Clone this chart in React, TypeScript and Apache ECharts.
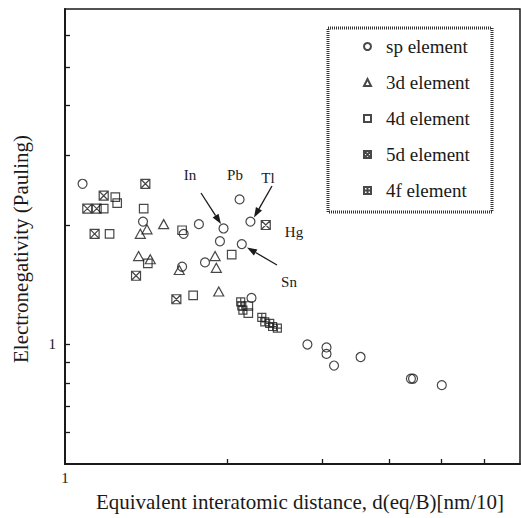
import React, { useEffect, useRef } from 'react';
import * as echarts from 'echarts';

const seriesNames = ['sp element', '3d element', '4d element', '5d element', '4f element'];

const spData = [
  [1.078, 2.54], [1.396, 2.04], [1.661, 1.9], [1.773, 2.01], [1.97, 1.96],
  [2.11, 2.32], [2.21, 2.04], [1.94, 1.82], [2.13, 1.79], [1.82, 1.61],
  [1.65, 1.57], [2.22, 1.31], [2.82, 1.0], [3.06, 0.983], [3.06, 0.947],
  [3.16, 0.885], [3.54, 0.93], [4.39, 0.82], [4.43, 0.82], [5.01, 0.79],
];
const d3Data = [
  [1.42, 1.95], [1.38, 1.9], [1.525, 2.01], [1.37, 1.67], [1.44, 1.64],
  [1.63, 1.54], [1.9, 1.67], [1.91, 1.56], [1.93, 1.36],
];
const d4Data = [
  [1.24, 2.35], [1.25, 2.27], [1.18, 2.2], [1.4, 2.2], [1.21, 1.9],
  [1.65, 1.94], [1.425, 1.6], [1.73, 1.33], [2.04, 1.685], [2.19, 1.25], [2.19, 1.2],
];
const d5Data = [
  [1.41, 2.54], [1.18, 2.37], [1.1, 2.2], [1.145, 2.2], [1.135, 1.9],
  [1.355, 1.49], [1.61, 1.3], [2.36, 2.0],
];
const f4Data = [
  [2.12, 1.28], [2.13, 1.25], [2.14, 1.22], [2.32, 1.17], [2.35, 1.14],
  [2.4, 1.13], [2.43, 1.11], [2.48, 1.1],
];

const xTickValues = [2, 3, 4, 5, 6];
const yTickValues = [0.6, 0.7, 0.8, 0.9, 1, 2, 3, 4, 5, 6];
const xLabelValues = [1];
const yLabelValues = [1];

const xTitle = 'Equivalent interatomic distance, d(eq/B)[nm/10]';
const yTitle = 'Electronegativity (Pauling)';

const annotationLabels = [
  { text: 'In', x: 190, y: 175 },
  { text: 'Pb', x: 235, y: 175 },
  { text: 'Tl', x: 268, y: 178 },
  { text: 'Hg', x: 294, y: 232 },
  { text: 'Sn', x: 289, y: 282 },
];
const arrows = [
  { from: [201, 193], to: [221, 224] },
  { from: [272, 186], to: [254, 217.5] },
  { from: [277, 265], to: [247, 247.5] },
];

const FONT = 'Liberation Serif, serif';
const INK = '#1a1a1a';

const crossSquare = 'path://M0,0H10V10H0Z M0,0L10,10 M10,0L0,10';
const plusSquare = 'path://M0,0H10V10H0Z M5,0V10 M0,5H10';

function arrowGraphic(a: { from: number[]; to: number[] }) {
  const [x1, y1] = a.from;
  const [x2, y2] = a.to;
  const dx = x2 - x1;
  const dy = y2 - y1;
  const len = Math.sqrt(dx * dx + dy * dy);
  const ux = dx / len;
  const uy = dy / len;
  const hl = 10;
  const hw = 3.5;
  const bx = x2 - ux * hl;
  const by = y2 - uy * hl;
  return {
    type: 'group',
    children: [
      { type: 'line', shape: { x1, y1, x2: bx, y2: by }, style: { stroke: INK, lineWidth: 1.3 } },
      {
        type: 'polygon',
        shape: { points: [[x2, y2], [bx - uy * hw, by + ux * hw], [bx + uy * hw, by - ux * hw]] },
        style: { fill: INK },
      },
    ],
  };
}

export default function App() {
  const ref = useRef<HTMLDivElement>(null);
  useEffect(() => {
    if (!ref.current) return;
    const chart = echarts.init(ref.current, null, { renderer: 'svg' });
    const itemStyle = { color: 'rgba(0,0,0,0)', borderColor: INK, borderWidth: 1.2 };
    const mk = (name: string, data: number[][], symbol: string, symbolSize: any) => ({
      name,
      type: 'scatter',
      data,
      symbol,
      symbolSize,
      clip: false,
      itemStyle,
      emphasis: { disabled: true },
    });
    const axisCommon = {
      type: 'log',
      logBase: 10,
      splitLine: { show: false },
      minorTick: { show: false },
      axisLine: { show: true, lineStyle: { color: INK, width: 2 } },
    };
    const legendText = { fontFamily: FONT, fontSize: 19, color: INK, padding: [0, 0, 0, 10] };
    chart.setOption({
      animation: false,
      backgroundColor: '#fff',
      textStyle: { fontFamily: FONT, color: INK },
      grid: { left: 65, top: 9, right: 1, bottom: 54, show: true, borderColor: INK, borderWidth: 1.5 },
      xAxis: {
        ...axisCommon,
        min: 1,
        max: 7,
        axisTick: { show: true, inside: true, length: 5, customValues: xTickValues, lineStyle: { color: INK, width: 1.3 } },
        axisLabel: { customValues: xLabelValues, fontFamily: FONT, fontSize: 15, color: INK, margin: 6 },
      },
      yAxis: {
        ...axisCommon,
        min: 0.5,
        max: 7,
        axisTick: { show: true, inside: true, length: 5, customValues: yTickValues, lineStyle: { color: INK, width: 1.3 } },
        axisLabel: { customValues: yLabelValues, fontFamily: FONT, fontSize: 15, color: INK, margin: 9 },
      },
      legend: {
        orient: 'vertical',
        left: 363,
        top: 37,
        padding: 0,
        itemGap: 17,
        itemWidth: 7,
        itemHeight: 7,
        data: seriesNames.map((n) => ({ name: n, textStyle: legendText })),
        selectedMode: false,
        textStyle: legendText,
      },
      series: [
        mk(seriesNames[0], spData, 'circle', 9),
        mk(seriesNames[1], d3Data, 'triangle', [10, 9]),
        mk(seriesNames[2], d4Data, 'rect', 8.5),
        mk(seriesNames[3], d5Data, crossSquare, 9),
        mk(seriesNames[4], f4Data, plusSquare, 8),
      ],
      graphic: [
        {
          type: 'rect',
          shape: { x: 328, y: 28, width: 164, height: 184 },
          style: { fill: 'none', stroke: '#333', lineWidth: 3, lineDash: [1, 1] },
        },
        ...annotationLabels.map((l) => ({
          type: 'text',
          x: l.x,
          y: l.y,
          style: { text: l.text, fontFamily: FONT, fontSize: 15, fill: INK, align: 'center', verticalAlign: 'middle' },
        })),
        ...arrows.map(arrowGraphic),
        {
          type: 'text',
          x: 300,
          y: 502,
          style: { text: xTitle, fontFamily: FONT, fontSize: 21, fill: INK, align: 'center', verticalAlign: 'middle' },
        },
        {
          type: 'text',
          x: 21,
          y: 249,
          rotation: Math.PI / 2,
          style: { text: yTitle, fontFamily: FONT, fontSize: 21, fill: INK, align: 'center', verticalAlign: 'middle' },
        },
      ],
    });
    return () => chart.dispose();
  }, []);
  return <div ref={ref} style={{ position: 'fixed', left: 0, top: 0, width: 521, height: 518 }} />;
}
